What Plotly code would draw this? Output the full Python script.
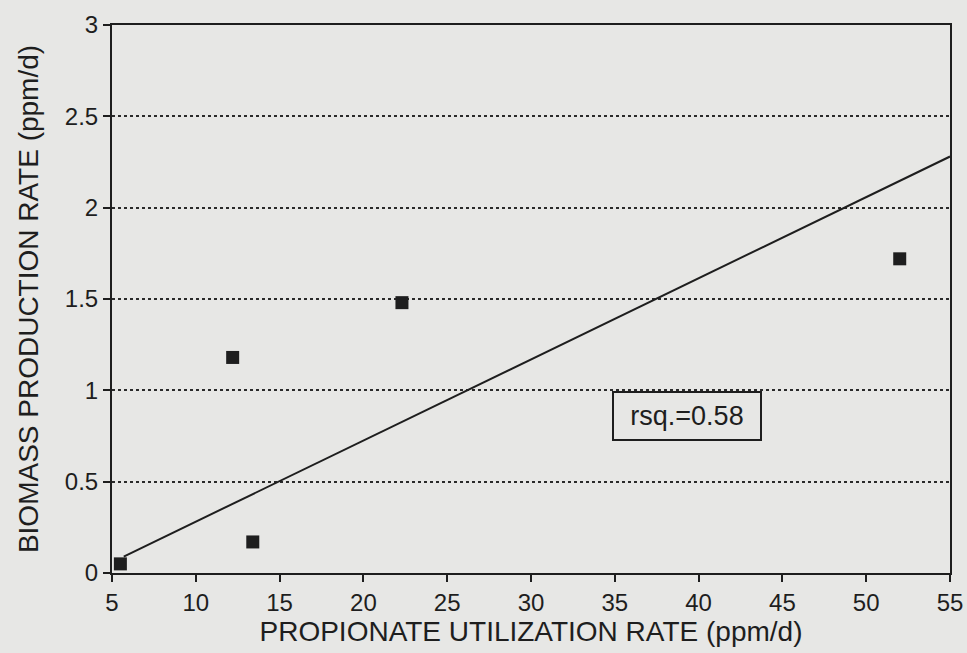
import plotly.graph_objects as go

# Data
util_rate = [5.5, 12.2, 13.4, 22.3, 52.0]      # propionate utilization rate (ppm/d)
biomass_rate = [0.05, 1.18, 0.17, 1.48, 1.72]  # biomass production rate (ppm/d)
fit_x = [5.7, 55.0]
fit_y = [0.09, 2.28]
rsq_text = "rsq.=0.58"
rsq_pos = (39.3, 0.86)
x_ticks = [5, 10, 15, 20, 25, 30, 35, 40, 45, 50, 55]
y_ticks = [0, 0.5, 1, 1.5, 2, 2.5, 3]

paper = "#e7e7e5"
ink = "#1e1e1e"
font = "Liberation Sans, Arial, sans-serif"

fig = go.Figure()
fig.add_trace(go.Scatter(x=fit_x, y=fit_y, mode="lines",
                         line=dict(color=ink, width=2), showlegend=False))
fig.add_trace(go.Scatter(x=util_rate, y=biomass_rate, mode="markers",
                         marker=dict(symbol="square", size=13, color=ink),
                         showlegend=False))

fig.add_annotation(x=rsq_pos[0], y=rsq_pos[1], text=rsq_text, showarrow=False,
                   font=dict(family=font, size=27, color=ink),
                   width=144, height=44, align="center", valign="middle",
                   bgcolor=paper, bordercolor=ink, borderwidth=2, borderpad=1)

fig.update_layout(
    width=967, height=653,
    margin=dict(l=112, r=17, t=25, b=80, autoexpand=False),
    paper_bgcolor=paper, plot_bgcolor=paper,
    font=dict(family=font, color=ink, size=24),
)
fig.update_xaxes(range=[5, 55], tickvals=x_ticks, ticks="outside", ticklen=7,
                 tickwidth=2, tickcolor=ink, showline=True, linecolor=ink,
                 linewidth=2, mirror=True, showgrid=False, zeroline=False,
                 tickfont=dict(size=24), ticklabeloverflow="allow",
                 automargin=False,
                 title=dict(text="PROPIONATE UTILIZATION RATE (ppm/d)",
                            font=dict(size=28), standoff=6))
fig.update_yaxes(range=[0, 3], tickvals=y_ticks, ticks="outside", ticklen=7,
                 tickwidth=2, tickcolor=ink, showline=True, linecolor=ink,
                 linewidth=2, mirror=True, showgrid=True, gridcolor="#2a2a2a",
                 griddash="dot", gridwidth=1.5, zeroline=False,
                 tickfont=dict(size=24), ticklabeloverflow="allow",
                 automargin=False,
                 title=dict(text="BIOMASS PRODUCTION RATE (ppm/d)",
                            font=dict(size=28), standoff=18))

fig.write_html("out.html", config={"displayModeBar": False},
               post_script="document.body.style.margin='0';")
